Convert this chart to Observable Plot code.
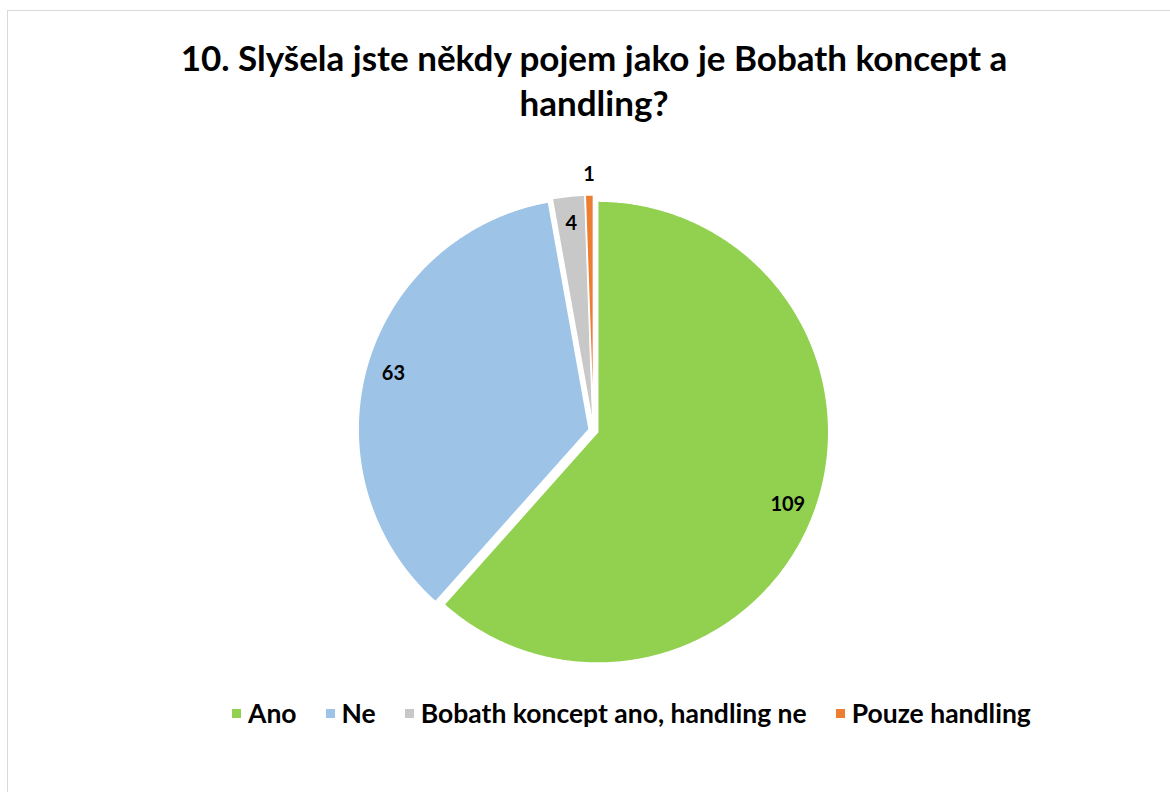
<!DOCTYPE html>
<html><head><meta charset="utf-8">
<script src="https://cdn.jsdelivr.net/npm/d3@7"></script>
<script src="https://cdn.jsdelivr.net/npm/@observablehq/plot@0.6"></script>
<style>
body{margin:0;background:#fff;font-family:Lato,"Open Sans",sans-serif;}
#wrap{position:relative;width:1170px;height:792px;overflow:hidden;}
#frame{position:absolute;left:7px;top:10px;width:1200px;height:820px;border:1px solid #d9d9d9;box-sizing:border-box;}
#title{position:absolute;left:0;width:1188px;top:35px;text-align:center;font-weight:700;font-size:35px;line-height:45px;color:#000;}
#chart{position:absolute;left:0;top:140px;}
#legend{position:absolute;left:232px;top:697px;display:flex;align-items:center;font-weight:700;font-size:26.5px;line-height:32px;color:#000;}
.item{display:flex;align-items:center;margin-right:29px;}
.sw{width:9px;height:9px;margin-right:7px;}
</style></head>
<body>
<div id="wrap">
<div id="frame"></div>
<div id="title">10. Slyšela jste někdy pojem jako je Bobath koncept a<br>handling?</div>
<div id="chart"></div>
<div id="legend"></div>
</div>
<script>
const categories = ["Ano", "Ne", "Bobath koncept ano, handling ne", "Pouze handling"];
const values = [109, 63, 4, 1];
const colors = ["#92D050", "#9DC3E6", "#C8C8C8", "#ED7D31"];

const W = 1170, H = 540;
const cx = 593, cy = 290, R = 231, explode = 4.5;

const arcs = d3.pie().sort(null).value(d => d)(values);
const total = d3.sum(values);

const slices = arcs.map((a, i) => {
  const mid = (a.startAngle + a.endAngle) / 2;
  const ox = cx + explode * Math.sin(mid), oy = cy - explode * Math.cos(mid);
  const n = Math.max(4, Math.ceil((a.endAngle - a.startAngle) / (Math.PI / 360)));
  const ring = [[ox, oy]];
  for (let k = 0; k <= n; k++) {
    const t = a.startAngle + (a.endAngle - a.startAngle) * k / n;
    ring.push([ox + R * Math.sin(t), oy - R * Math.cos(t)]);
  }
  ring.push([ox, oy]);
  return {type: "Feature", properties: {cat: categories[i]}, geometry: {type: "Polygon", coordinates: [ring]}};
});

const labels = arcs.map((a, i) => {
  const mid = (a.startAngle + a.endAngle) / 2;
  const f = values[i] / total < 0.01 ? 1.11 : 0.9;
  return {x: cx + R * f * Math.sin(mid), y: cy - R * f * Math.cos(mid), text: String(values[i])};
});

const chart = Plot.plot({
  width: W, height: H, margin: 0,
  style: {fontFamily: "Lato, 'Open Sans', sans-serif", background: "transparent"},
  projection: {type: "identity", domain: {type: "MultiPoint", coordinates: [[0, 0], [W, H]]}},
  color: {domain: categories, range: colors},
  marks: [
    Plot.geo(slices, {fill: d => d.properties.cat, stroke: "white", strokeWidth: 1.5}),
    Plot.text(labels, {x: "x", y: "y", text: "text", fontWeight: "bold", fontSize: 20, fill: "#000"})
  ]
});
document.getElementById("chart").appendChild(chart);

const leg = document.getElementById("legend");
categories.forEach((c, i) => {
  const it = document.createElement("div"); it.className = "item";
  const sw = document.createElement("div"); sw.className = "sw"; sw.style.background = colors[i];
  const tx = document.createElement("span"); tx.textContent = c;
  it.appendChild(sw); it.appendChild(tx); leg.appendChild(it);
});
</script>
</body></html>
